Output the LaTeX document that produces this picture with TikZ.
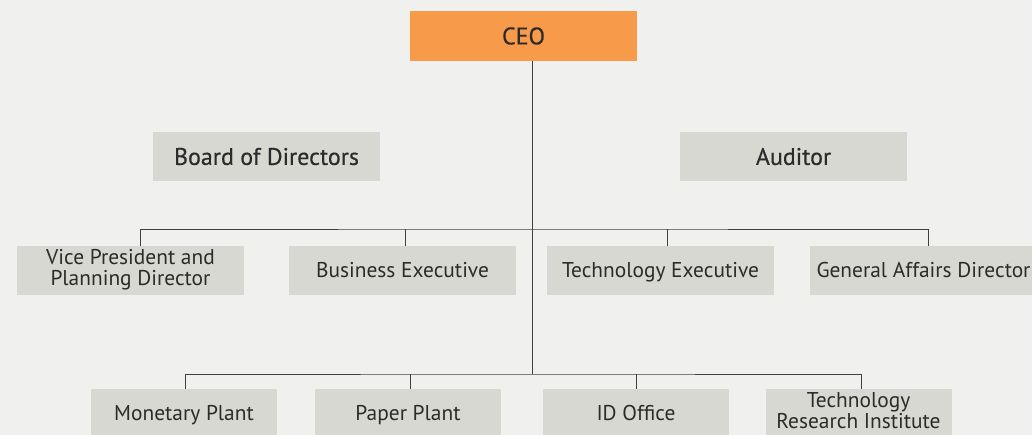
\documentclass[tikz,border=0pt]{standalone}
\usepackage{fontspec}
\setmainfont{PT Sans}
\newfontfamily\hdfont[FakeBold=0.45]{PT Sans}
\usetikzlibrary{positioning}
\definecolor{pagebg}{HTML}{F0F0EE}
\definecolor{boxgray}{HTML}{D8D8D2}
\definecolor{ceoorange}{HTML}{F79A4A}
\definecolor{inkdark}{HTML}{2B2B2B}
\definecolor{linegray}{HTML}{404040}
% keeps capitals centred in the boxes, with or without descenders
\newcommand\bxstrut{\rule[-0.28em]{0pt}{1.26em}}

\begin{document}
\begin{tikzpicture}[x=1pt, y=-1pt,
  bx/.style={fill=boxgray, text=inkdark, align=center, inner sep=0pt, minimum height=49pt,
    font=\fontsize{21.4}{20.5}\selectfont, execute at begin node=\bxstrut, execute at end node=\bxstrut},
  wide/.style={bx, minimum width=227pt},
  narrow/.style={bx, minimum width=186pt},
  hd/.style={font=\fontsize{24}{24}\selectfont\hdfont},
  link/.style={draw=linegray, line width=0.8pt}
]
\useasboundingbox (0,0) rectangle (1032,435);
\clip (0,0) rectangle (1032,435);
\fill[pagebg] (0,0) rectangle (1032,435);

% top of the chart
\node[wide, hd, fill=ceoorange, minimum height=50pt] (ceo) at (523.5,36) {CEO};
\node[wide, hd] (board) at (266.5,156.5) {Board of Directors};
\node[wide, hd] (audit) at (793.5,156.5) {Auditor};

% executives
\foreach \i/\x/\t in {
 1/130.5/{Vice President and\\Planning Director},
 2/402.5/{Business Executive},
 3/660.5/{Technology Executive},
 4/923.5/{General Affairs Director}}
 \node[wide] (ex\i) at (\x,270.5) {\t};

% plants and offices
\foreach \i/\x/\t in {
 1/184/{Monetary Plant},
 2/408/{Paper Plant},
 3/636/{ID Office},
 4/858.5/{Technology\\Research Institute}}
 \node[narrow] (pl\i) at (\x,413.5) {\t};

\coordinate (b1) at (532,229);
\coordinate (b2) at (532,374);

\draw[link] (ceo.south -| b1) -- (b2);
\draw[link] ([xshift=9.5pt]ex1.north) |- (b1) -| ([xshift=4.5pt]ex4.north);
\foreach \i/\dx in {2/2.5,3/6.5}
 \draw[link] ([xshift=\dx pt]ex\i.north) -- ([xshift=\dx pt]ex\i.north |- b1);
\draw[link] ([xshift=1.5pt]pl1.north) |- (b2) -| ([xshift=2.5pt]pl4.north);
\foreach \i/\dx in {2/2,3/0}
 \draw[link] ([xshift=\dx pt]pl\i.north) -- ([xshift=\dx pt]pl\i.north |- b2);
\end{tikzpicture}
\end{document}
